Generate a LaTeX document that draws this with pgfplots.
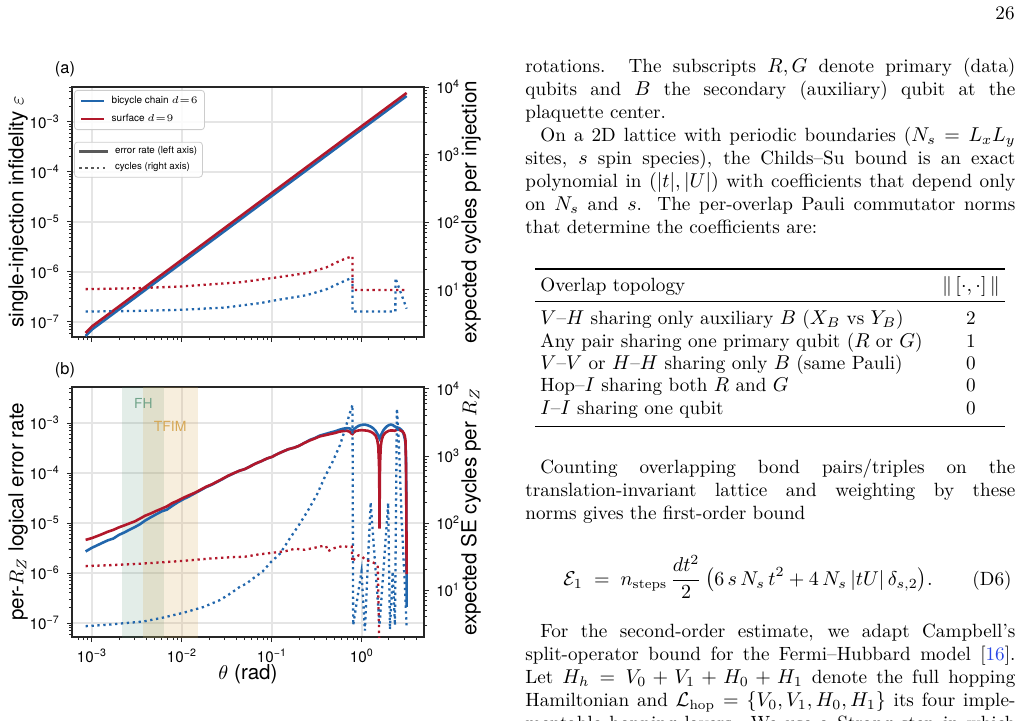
\documentclass[border=0pt]{standalone}
\usepackage{fontspec}
\usepackage{amsmath}
\usepackage{pgfplots}
\pgfplotsset{compat=1.18}
\newfontfamily\plotfont{TeX Gyre Heros}
\definecolor{cblue}{RGB}{33,102,172}
\definecolor{cred}{RGB}{178,24,43}
\definecolor{fhgreen}{RGB}{88,148,118}
\definecolor{tfimtan}{RGB}{214,168,86}
\definecolor{refblue}{RGB}{40,70,230}
\newcommand\bodyfnt{\fontsize{9.58}{11.5}\selectfont}
\newcommand\tickfnt{\plotfont\fontsize{7.6}{8}\selectfont}
\newcommand\labfnt{\plotfont\fontsize{10.3}{12}\selectfont}
\newcommand\tpos[1]{10\textsuperscript{#1}}
\newcommand\tneg[1]{10\textsuperscript{\textminus#1}}
% justified line / natural line of the running text
\newcommand\JustLine[4]{\node[anchor=base west,inner sep=0pt] at (#1pt,-#2pt) {\bodyfnt\makebox[#3pt][s]{#4}};}
\newcommand\PlainLine[3]{\node[anchor=base west,inner sep=0pt] at (#1pt,-#2pt) {\bodyfnt #3};}

\begin{document}
\begin{tikzpicture}
\path[use as bounding box] (0,0) rectangle (510.5pt,-360.5pt);

%================ panel (a) ================
\node[font=\plotfont\fontsize{8.2}{9}\selectfont] at (32.5pt,-34.6pt) {(a)};
\begin{axis}[at={(36pt,-168.5pt)}, anchor=south west,
  scale only axis, width=176pt, height=125pt,
  xmode=log, ymode=log, xmin=6.0e-4, xmax=4.9,
  ymin=5.01e-8, ymax=5.01e-3,
  axis line style={black!85, line width=0.7pt},
  tick style={black!85, line width=0.5pt},
  major tick length=2.6pt, minor tick length=1.5pt, tick align=outside,
  tick label style={font=\tickfnt},
  xtick pos=bottom, ytick pos=left,
  grid=major, major grid style={black!10, line width=0.6pt},
  xtick={1e-3,1e-2,1e-1,1}, xticklabels={},
  minor xtick={7e-4,8e-4,9e-4,2e-3,3e-3,4e-3,5e-3,6e-3,7e-3,8e-3,9e-3,2e-2,3e-2,4e-2,5e-2,6e-2,7e-2,8e-2,9e-2,0.2,0.3,0.4,0.5,0.6,0.7,0.8,0.9,2,3,4},
  ytick={1e-7,1e-6,1e-5,1e-4,1e-3},
  yticklabels={\tneg7,\tneg6,\tneg5,\tneg4,\tneg3},
  minor ytick={6e-8,7e-8,8e-8,9e-8,2e-7,3e-7,4e-7,5e-7,6e-7,7e-7,8e-7,9e-7,2e-6,3e-6,4e-6,5e-6,6e-6,7e-6,8e-6,9e-6,2e-5,3e-5,4e-5,5e-5,6e-5,7e-5,8e-5,9e-5,2e-4,3e-4,4e-4,5e-4,6e-4,7e-4,8e-4,9e-4,2e-3,3e-3,4e-3,5e-3},
  ylabel={single-injection infidelity $\varepsilon$},
  ylabel style={at={(axis description cs:-0.1534,0.5)}, anchor=center, font=\labfnt},
  legend image code/.code={\draw[#1] (0pt,0pt) -- (11.7pt,0pt);},
  legend style={at={(0.006,0.988)}, anchor=north west,
    fill=white, fill opacity=0.85, text opacity=1, draw=black!20, rounded corners=1.5pt,
    inner xsep=2.6pt, inner ysep=2.2pt, column sep=2.2pt,
    nodes={inner xsep=0.8pt, inner ysep=0.6pt},
    cells={anchor=west},
    font=\plotfont\fontsize{5.0}{6}\selectfont, row sep=2.5pt}]
\addlegendimage{cblue, line width=1.3pt}\addlegendentry{bicycle chain $d\mkern1mu{=}\mkern1mu6$}
\addlegendimage{cred, line width=1.3pt}\addlegendentry{surface $d\mkern1mu{=}\mkern1mu9$}
\addplot[cblue, line width=1.3pt, forget plot] coordinates {
 (8.5e-4,5.25e-8) (1e-3,7.08e-8) (1e-2,1.53e-6) (1e-1,3.33e-5) (1,7.21e-4) (3.1416,3.31e-3)};
\addplot[cred, line width=1.3pt, forget plot] coordinates {
 (8.5e-4,6.05e-8) (1e-3,8.15e-8) (1e-2,1.76e-6) (1e-1,3.83e-5) (1,8.3e-4) (3.1416,3.81e-3)};
\end{axis}
\begin{axis}[at={(36pt,-168.5pt)}, anchor=south west,
  scale only axis, width=176pt, height=125pt,
  xmode=log, ymode=log, xmin=6.0e-4, xmax=4.9,
  ymin=2.02, ymax=1.0e4,
  axis x line=none, axis y line*=right,
  axis line style={black!85, line width=0.7pt},
  tick style={black!85, line width=0.5pt},
  major tick length=2.6pt, minor tick length=1.5pt, tick align=outside,
  tick label style={font=\tickfnt},
  ytick={10,100,1000,10000},
  yticklabels={\tpos1,\tpos2,\tpos3,\tpos4},
  minor ytick={3,4,5,6,7,8,9,20,30,40,50,60,70,80,90,200,300,400,500,600,700,800,900,2000,3000,4000,5000,6000,7000,8000,9000},
  ylabel={expected cycles per injection},
  ylabel style={at={(axis description cs:1.1335,0.5)}, anchor=center, font=\labfnt},
  legend image code/.code={\draw[#1] (0pt,0pt) -- (14.2pt,0pt);},
  legend style={at={(0.006,0.781)}, anchor=north west,
    fill=white, fill opacity=0.85, text opacity=1, draw=black!20, rounded corners=1.5pt,
    inner xsep=1.8pt, inner ysep=1.6pt, column sep=2.2pt,
    nodes={inner xsep=0.8pt, inner ysep=0.6pt},
    cells={anchor=west},
    font=\plotfont\fontsize{4.86}{5.5}\selectfont, row sep=1.8pt}]
\addlegendimage{black!65, line width=1.3pt}\addlegendentry{error rate (left axis)}
\addlegendimage{black!65, line width=1.15pt, dash pattern=on 1.15pt off 1.8pt}\addlegendentry{cycles (right axis)}
\addplot[cblue, line width=1.15pt, dash pattern=on 1.15pt off 1.8pt, forget plot] coordinates {
 (8.5e-4,4.8) (3e-3,4.9) (1e-2,5.1) (3e-2,5.5) (7.4e-2,6.4) (0.1,6.9) (0.245,8.4)
 (0.4,10.2) (0.57,12.7) (0.7,14.3) (0.785,15.2) (0.786,4.8) (2.356,4.8) (2.357,15) (3.1416,5.3)};
\addplot[cred, line width=1.15pt, dash pattern=on 1.15pt off 1.8pt, forget plot] coordinates {
 (8.5e-4,10.3) (3e-3,10.6) (1e-2,11.3) (4.4e-2,13.0) (0.1,15) (0.245,17.8) (0.4,21.5)
 (0.57,27) (0.7,30) (0.785,31.5) (0.786,10) (3.1416,10)};
\end{axis}

%================ panel (b) ================
\node[font=\plotfont\fontsize{8.2}{9}\selectfont] at (32.5pt,-185pt) {(b)};
\begin{axis}[at={(36pt,-318.5pt)}, anchor=south west,
  scale only axis, width=176pt, height=125pt,
  xmode=log, ymode=log, xmin=6.0e-4, xmax=4.9,
  ymin=5.25e-8, ymax=5.25e-3,
  axis line style={black!85, line width=0.7pt},
  tick style={black!85, line width=0.5pt},
  major tick length=2.6pt, minor tick length=1.5pt, tick align=outside,
  tick label style={font=\tickfnt},
  xtick pos=bottom, ytick pos=left,
  grid=major, major grid style={black!10, line width=0.6pt},
  xtick={1e-3,1e-2,1e-1,1}, xticklabels={\tneg3,\tneg2,\tneg1,\tpos0},
  minor xtick={7e-4,8e-4,9e-4,2e-3,3e-3,4e-3,5e-3,6e-3,7e-3,8e-3,9e-3,2e-2,3e-2,4e-2,5e-2,6e-2,7e-2,8e-2,9e-2,0.2,0.3,0.4,0.5,0.6,0.7,0.8,0.9,2,3,4},
  ytick={1e-7,1e-6,1e-5,1e-4,1e-3},
  yticklabels={\tneg7,\tneg6,\tneg5,\tneg4,\tneg3},
  minor ytick={6e-8,7e-8,8e-8,9e-8,2e-7,3e-7,4e-7,5e-7,6e-7,7e-7,8e-7,9e-7,2e-6,3e-6,4e-6,5e-6,6e-6,7e-6,8e-6,9e-6,2e-5,3e-5,4e-5,5e-5,6e-5,7e-5,8e-5,9e-5,2e-4,3e-4,4e-4,5e-4,6e-4,7e-4,8e-4,9e-4,2e-3,3e-3,4e-3,5e-3},
  xlabel={$\theta$ (rad)},
  xlabel style={at={(axis description cs:0.5,-0.148)}, anchor=center, font=\labfnt},
  ylabel={per-$R_Z$ logical error rate},
  ylabel style={at={(axis description cs:-0.1534,0.5)}, anchor=center, font=\labfnt}]
% parameter windows
\addplot[draw=none, fill=fhgreen, fill opacity=0.17] coordinates {
 (2.17e-3,1e-9) (6.3e-3,1e-9) (6.3e-3,1) (2.17e-3,1)} -- cycle;
\addplot[draw=none, fill=tfimtan, fill opacity=0.2] coordinates {
 (3.7e-3,1e-9) (1.49e-2,1e-9) (1.49e-2,1) (3.7e-3,1)} -- cycle;
\node[font=\plotfont\fontsize{6.9}{8}\selectfont, text=fhgreen!85] at (rel axis cs:0.2026,0.935) {FH};
\node[font=\plotfont\fontsize{7}{8}\selectfont, text=tfimtan] at (rel axis cs:0.279,0.841) {TFIM};
\addplot[cblue, line width=1.3pt] coordinates {
 (8.5e-4,2.7e-6) (1e-3,3.2e-6) (1.15e-3,3.6e-6) (1.3e-3,4.0e-6) (1.5e-3,4.5e-6) (1.73e-3,4.9e-6)
 (2.0e-3,5.8e-6) (2.3e-3,6.5e-6) (2.6e-3,7.3e-6) (3.0e-3,8.3e-6) (3.4e-3,9.4e-6) (3.9e-3,1.12e-5)
 (4.5e-3,1.3e-5) (5.2e-3,1.5e-5) (6.0e-3,1.72e-5) (6.8e-3,1.85e-5) (7.8e-3,2.2e-5) (9e-3,2.6e-5)
 (1.04e-2,3.0e-5) (1.2e-2,3.4e-5) (1.38e-2,3.9e-5) (1.6e-2,4.5e-5) (1.85e-2,5.2e-5) (2.13e-2,5.8e-5)
 (2.45e-2,6.6e-5) (2.8e-2,7.5e-5) (3.25e-2,8.7e-5) (3.7e-2,9.7e-5) (4.3e-2,1.1e-4) (5e-2,1.2e-4)
 (5.7e-2,1.35e-4) (6.6e-2,1.55e-4) (7.6e-2,1.72e-4) (8.8e-2,1.95e-4) (0.1,2.1e-4) (0.115,2.4e-4)
 (0.133,2.7e-4) (0.153,3.0e-4) (0.176,3.2e-4) (0.2,3.5e-4) (0.23,4.0e-4) (0.265,4.6e-4) (0.3,5.0e-4)
 (0.34,5.6e-4) (0.39,6.0e-4) (0.44,6.4e-4) (0.5,6.8e-4) (0.56,7.3e-4) (0.62,7.7e-4) (0.68,7.9e-4)
 (0.73,7.8e-4) (0.77,7.2e-4) (0.785,7.0e-4) (0.80,7.3e-4) (0.85,8.0e-4) (0.92,8.8e-4) (1.0,9.2e-4)
 (1.08,9.3e-4) (1.16,9.0e-4) (1.25,8.5e-4) (1.33,7.9e-4) (1.42,7.0e-4) (1.5,5.9e-4) (1.571,4.9e-4)
 (1.64,5.9e-4) (1.72,7.0e-4) (1.81,7.9e-4) (1.9,8.6e-4) (2.0,9.1e-4) (2.1,9.3e-4) (2.2,9.1e-4)
 (2.3,8.6e-4) (2.4,8.3e-4) (2.5,8.1e-4) (2.6,7.9e-4) (2.72,7.4e-4) (2.82,6.9e-4) (2.92,5.9e-4)
 (3.0,4.8e-4) (3.05,3.9e-4) (3.09,2e-4) (3.12,3e-5) (3.135,1e-6) (3.1416,2.1e-7)};
\addplot[cred, line width=1.3pt] coordinates {
 (8.5e-4,4.6e-6) (1e-3,5.0e-6) (1.15e-3,5.5e-6) (1.3e-3,6.0e-6) (1.5e-3,6.7e-6) (1.73e-3,7.3e-6)
 (2.0e-3,8.2e-6) (2.3e-3,9.0e-6) (2.6e-3,9.8e-6) (3.0e-3,1.08e-5) (3.4e-3,1.22e-5) (3.9e-3,1.4e-5)
 (4.5e-3,1.55e-5) (5.2e-3,1.75e-5) (6.0e-3,1.95e-5) (6.8e-3,2.15e-5) (7.8e-3,2.5e-5) (9e-3,2.8e-5)
 (1.04e-2,3.2e-5) (1.2e-2,3.6e-5) (1.38e-2,4.0e-5) (1.6e-2,4.6e-5) (1.85e-2,5.3e-5) (2.13e-2,5.9e-5)
 (2.45e-2,6.7e-5) (2.8e-2,7.6e-5) (3.25e-2,8.8e-5) (3.7e-2,9.8e-5) (4.3e-2,1.1e-4) (5e-2,1.2e-4)
 (5.7e-2,1.35e-4) (6.6e-2,1.55e-4) (7.6e-2,1.72e-4) (8.8e-2,1.95e-4) (0.1,2.1e-4) (0.115,2.4e-4)
 (0.133,2.7e-4) (0.153,3.0e-4) (0.176,3.2e-4) (0.2,3.5e-4) (0.23,4.0e-4) (0.265,4.5e-4) (0.3,4.9e-4)
 (0.34,5.4e-4) (0.39,5.7e-4) (0.44,6.0e-4) (0.5,6.3e-4) (0.56,6.7e-4) (0.62,6.9e-4) (0.68,7.0e-4)
 (0.73,6.7e-4) (0.77,6.1e-4) (0.785,6.0e-4) (0.80,6.3e-4) (0.85,6.9e-4) (0.92,7.1e-4) (1.0,7.2e-4)
 (1.08,7.1e-4) (1.16,7.0e-4) (1.25,6.7e-4) (1.33,6.3e-4) (1.42,5.6e-4) (1.48,4.6e-4) (1.52,3.4e-4)
 (1.55,1.5e-4) (1.563,4e-5) (1.5708,7.7e-6) (1.578,4e-5) (1.59,1.5e-4) (1.62,3.4e-4) (1.66,4.6e-4)
 (1.72,5.6e-4) (1.81,6.3e-4) (1.9,6.7e-4) (2.0,7.0e-4) (2.1,7.1e-4) (2.2,7.1e-4) (2.3,7.0e-4)
 (2.4,7.2e-4) (2.5,7.4e-4) (2.6,7.3e-4) (2.72,7.0e-4) (2.82,6.8e-4) (2.92,6.3e-4) (3.0,5.5e-4)
 (3.05,4.5e-4) (3.09,1.5e-4) (3.12,1.5e-5) (3.1416,9.5e-7)};
\end{axis}
\begin{axis}[at={(36pt,-318.5pt)}, anchor=south west,
  scale only axis, width=176pt, height=125pt,
  xmode=log, ymode=log, xmin=6.0e-4, xmax=4.9,
  ymin=2.0, ymax=1.07e4,
  axis x line=none, axis y line*=right,
  axis line style={black!85, line width=0.7pt},
  tick style={black!85, line width=0.5pt},
  major tick length=2.6pt, minor tick length=1.5pt, tick align=outside,
  tick label style={font=\tickfnt},
  ytick={10,100,1000,10000},
  yticklabels={\tpos1,\tpos2,\tpos3,\tpos4},
  minor ytick={3,4,5,6,7,8,9,20,30,40,50,60,70,80,90,200,300,400,500,600,700,800,900,2000,3000,4000,5000,6000,7000,8000,9000},
  ylabel={expected SE cycles per $R_Z$},
  ylabel style={at={(axis description cs:1.1335,0.5)}, anchor=center, font=\labfnt}]
\addplot[cblue, line width=1.15pt, dash pattern=on 1.15pt off 1.8pt] coordinates {
 (8.5e-4,2.9) (1.5e-3,3.05) (2.2e-3,3.2) (3.7e-3,3.4) (6.2e-3,3.9) (1.04e-2,4.6) (1.73e-2,5.6)
 (2.64e-2,7.1) (3.5e-2,9.0) (4.4e-2,11.2) (5.2e-2,12.5) (6.2e-2,15) (7.9e-2,19) (9.7e-2,26)
 (0.123,35) (0.158,59) (0.2,94) (0.253,156) (0.318,270) (0.388,490) (0.472,820) (0.57,1450)
 (0.65,2500) (0.72,4000) (0.786,5800) (0.80,3.0) (0.99,19) (1.08,2.5) (1.25,204) (1.571,3.0)
 (1.96,200) (2.05,2.6) (2.2,19) (2.33,3.0) (2.45,5100) (2.6,1150) (2.76,117) (3.0,12) (3.1416,2.7)};
\addplot[cred, line width=1.15pt, dash pattern=on 1.15pt off 1.8pt] coordinates {
 (8.5e-4,22.8) (1.5e-3,23.5) (3e-3,24.5) (6e-3,26) (1.1e-2,27.5) (2e-2,29.5) (3.5e-2,31) (5e-2,31.5)
 (7e-2,34) (0.1,36) (0.14,38) (0.18,41.4) (0.23,40) (0.28,42) (0.35,45) (0.4,45.4) (0.42,38)
 (0.48,42) (0.55,44) (0.62,45.5) (0.7,44) (0.77,44.5) (0.786,26.5) (0.85,31) (0.92,33) (1.0,32)
 (1.1,28) (1.25,27) (1.4,25) (1.5,22.3) (1.5708,1.0)};
\end{axis}

%================ running text ================
\node[anchor=base east,inner sep=0pt] at (507.5pt,-10pt) {\bodyfnt 26};
\JustLine{262.5}{36.25}{245}{rotations. The subscripts $R,G$ denote primary (data)}
\JustLine{262.5}{47.75}{245}{qubits and $B$ the secondary (auxiliary) qubit at the}
\PlainLine{262.5}{59.25}{plaquette center.}
\JustLine{270}{70.75}{237.5}{On a 2D lattice with periodic boundaries ($N_s=L_xL_y$}
\JustLine{262.5}{82.25}{245}{sites, $s$ spin species), the Childs--Su bound is an exact}
\JustLine{262.5}{93.75}{245}{polynomial in $(|t|,|U|)$ with coefficients that depend only}
\JustLine{262.5}{105.25}{245}{on $N_s$ and $s$. The per-overlap Pauli commutator norms}
\PlainLine{262.5}{116.75}{that determine the coefficients are:}

% table
\draw[line width=0.75pt] (267.5pt,-134.5pt) -- (502.5pt,-134.5pt);
\draw[line width=0.45pt] (267.5pt,-150.85pt) -- (502.5pt,-150.85pt);
\draw[line width=0.75pt] (267.5pt,-213.35pt) -- (502.5pt,-213.35pt);
\PlainLine{270}{146}{Overlap topology}
\node[anchor=base,inner sep=0pt] at (485.5pt,-146pt) {\bodyfnt$\|\,[\cdot,\cdot]\,\|$};
\PlainLine{270}{162.5}{$V$--$H$ sharing only auxiliary $B$ ($X_B$ vs $Y_B$)}
\PlainLine{270}{173.6}{Any pair sharing one primary qubit ($R$ or $G$)}
\PlainLine{270}{184.7}{$V$--$V$ or $H$--$H$ sharing only $B$ (same Pauli)}
\PlainLine{270}{195.8}{Hop--$I$ sharing both $R$ and $G$}
\PlainLine{270}{207}{$I$--$I$ sharing one qubit}
\node[anchor=base,inner sep=0pt] at (485.5pt,-162.5pt) {\bodyfnt 2};
\node[anchor=base,inner sep=0pt] at (485.5pt,-173.6pt) {\bodyfnt 1};
\node[anchor=base,inner sep=0pt] at (485.5pt,-184.7pt) {\bodyfnt 0};
\node[anchor=base,inner sep=0pt] at (485.5pt,-195.8pt) {\bodyfnt 0};
\node[anchor=base,inner sep=0pt] at (485.5pt,-207pt) {\bodyfnt 0};

\JustLine{270}{236.75}{237.5}{Counting overlapping bond pairs/triples on the}
\JustLine{262.5}{248.25}{245}{translation-invariant lattice and weighting by these}
\PlainLine{262.5}{259.75}{norms gives the first-order bound}

\node[anchor=base west,inner sep=0pt] at (281.5pt,-292.5pt) {\bodyfnt
 $\displaystyle \mathcal{E}_1 \;=\; n_{\rm steps}\,\frac{dt^2}{2}\,\bigl(6\,s\,N_s\,t^2+4\,N_s\,|tU|\,\delta_{s,2}\bigr).$};
\node[anchor=base east,inner sep=0pt] at (506pt,-292.5pt) {\bodyfnt (D6)};

\JustLine{270}{318.75}{237.5}{For the second-order estimate, we adapt Campbell's}
\JustLine{262.5}{330.25}{245}{split-operator bound for the Fermi--Hubbard model [\textcolor{refblue}{16}].}
\JustLine{262.5}{341.75}{245}{Let $H_h=V_0+V_1+H_0+H_1$ denote the full hopping}
\JustLine{262.5}{353.25}{245}{Hamiltonian and $\mathcal{L}_{\rm hop}=\{V_0,V_1,H_0,H_1\}$ its four imple-}
\JustLine{262.5}{364.75}{245}{mentable hopping layers. We use a Strang step in which}
\end{tikzpicture}
\end{document}
